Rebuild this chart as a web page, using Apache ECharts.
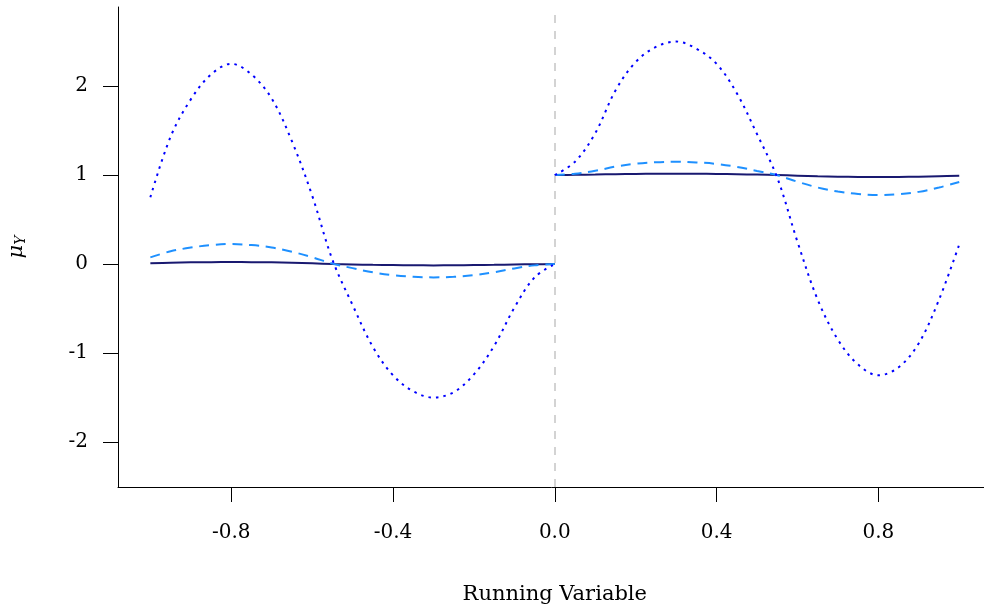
<!DOCTYPE html>
<html><head><meta charset="utf-8">
<script src="https://cdn.jsdelivr.net/npm/echarts@6/dist/echarts.min.js"></script>
<style>html,body{margin:0;padding:0;background:#fff}#c{width:984px;height:606px}</style>
</head><body><div id="c"></div>
<script>
// Running variable grid (left and right of cutoff)
const xLeft  = [-1.00,-0.95,-0.90,-0.85,-0.80,-0.75,-0.70,-0.65,-0.60,-0.55,-0.50,-0.45,-0.40,-0.35,-0.30,-0.25,-0.20,-0.15,-0.10,-0.05,0.00];
const xRight = [0.00,0.05,0.10,0.15,0.20,0.25,0.30,0.35,0.40,0.45,0.50,0.55,0.60,0.65,0.70,0.75,0.80,0.85,0.90,0.95,1.00];

// Dotted (large amplitude)
const dottedLeft  = [0.75,1.43,1.85,2.13,2.25,2.13,1.86,1.38,0.77,0.05,-0.46,-0.93,-1.25,-1.43,-1.50,-1.44,-1.24,-0.92,-0.49,-0.15,0.00];
const dottedRight = [1.00,1.15,1.47,1.95,2.27,2.44,2.50,2.42,2.25,1.92,1.46,0.97,0.25,-0.40,-0.85,-1.13,-1.25,-1.16,-0.89,-0.40,0.22];
// Dashed (medium amplitude)
const dashedLeft  = [0.075,0.143,0.185,0.213,0.225,0.213,0.186,0.138,0.077,0.005,-0.046,-0.093,-0.125,-0.143,-0.150,-0.144,-0.124,-0.092,-0.049,-0.015,0.000];
const dashedRight = [1.000,1.015,1.047,1.095,1.127,1.144,1.150,1.142,1.125,1.092,1.046,0.997,0.925,0.860,0.815,0.787,0.775,0.784,0.811,0.860,0.922];
// Solid (small amplitude)
const solidLeft   = [0.008,0.014,0.019,0.021,0.022,0.021,0.019,0.014,0.008,0.000,-0.005,-0.009,-0.012,-0.014,-0.015,-0.014,-0.012,-0.009,-0.005,-0.002,0.000];
const solidRight  = [1.000,1.002,1.005,1.010,1.013,1.014,1.015,1.014,1.013,1.009,1.005,1.000,0.993,0.986,0.982,0.979,0.978,0.979,0.981,0.986,0.992];

const xTicks = [-0.8,-0.4,0.0,0.4,0.8];
const yTicks = [-2,-1,0,1,2];
const cutoff = 0;

const FONT = 'DejaVu Serif';
const zip = (xs, ys) => xs.map((x, i) => [x, ys[i]]);

function line(data, color, type, z) {
  return {
    type: 'line', data, smooth: 0.35, symbol: 'none', z,
    lineStyle: { color, width: 2, type, cap: 'butt' },
    animation: false, silent: true
  };
}
const DOT = [2.5, 5];
const DASH = [10, 6.7];

const chart = echarts.init(document.getElementById('c'), null, { renderer: 'canvas' });
const solidL = line(zip(xLeft, solidLeft), '#191970', 'solid', 3);
solidL.markLine = {
  silent: true, symbol: 'none', label: { show: false }, animation: false,
  lineStyle: { color: '#d3d3d3', type: [8, 8], width: 2 },
  data: [{ xAxis: cutoff }]
};
chart.setOption({
  animation: false,
  backgroundColor: '#fff',
  grid: { left: 118, right: -7.6, top: 7, bottom: 119, outerBoundsMode: 'none', containLabel: false },
  xAxis: {
    type: 'value', min: -1.08, max: 1.08,
    name: 'Running Variable', nameLocation: 'middle', nameGap: 97,
    nameTextStyle: { fontFamily: FONT, fontSize: 21, color: '#000' },
    axisLine: { show: true, onZero: false, lineStyle: { color: '#000', width: 1 } },
    axisTick: { show: true, length: 15, customValues: xTicks, lineStyle: { color: '#000', width: 1 } },
    axisLabel: { customValues: xTicks, margin: 36, fontFamily: FONT, fontSize: 20, color: '#000',
      formatter: v => v.toFixed(1) },
    splitLine: { show: false }
  },
  yAxis: {
    type: 'value', min: -2.505, max: 2.888,
    name: '{mu|μ}{sub|Y}', nameLocation: 'middle', nameGap: 90, nameRotate: 90,
    nameTextStyle: { color: '#000',
      rich: {
        mu: { fontFamily: FONT, fontStyle: 'italic', fontSize: 21, color: '#000' },
        sub: { fontFamily: FONT, fontStyle: 'italic', fontSize: 14, color: '#000', padding: [8, 0, 0, 0] }
      } },
    axisLine: { show: true, onZero: false, lineStyle: { color: '#000', width: 1 } },
    axisTick: { show: true, length: 15, customValues: yTicks, lineStyle: { color: '#000', width: 1 } },
    axisLabel: { customValues: yTicks, margin: 30, fontFamily: FONT, fontSize: 20, color: '#000',
      formatter: v => String(v) },
    splitLine: { show: false }
  },
  series: [
    solidL,
    line(zip(xRight, solidRight), '#191970', 'solid', 3),
    line(zip(xLeft, dashedLeft), '#1e90ff', DASH, 4),
    line(zip(xRight, dashedRight), '#1e90ff', DASH, 4),
    line(zip(xLeft, dottedLeft), '#0000ff', DOT, 5),
    line(zip(xRight, dottedRight), '#0000ff', DOT, 5)
  ]
});
</script>
</body></html>
